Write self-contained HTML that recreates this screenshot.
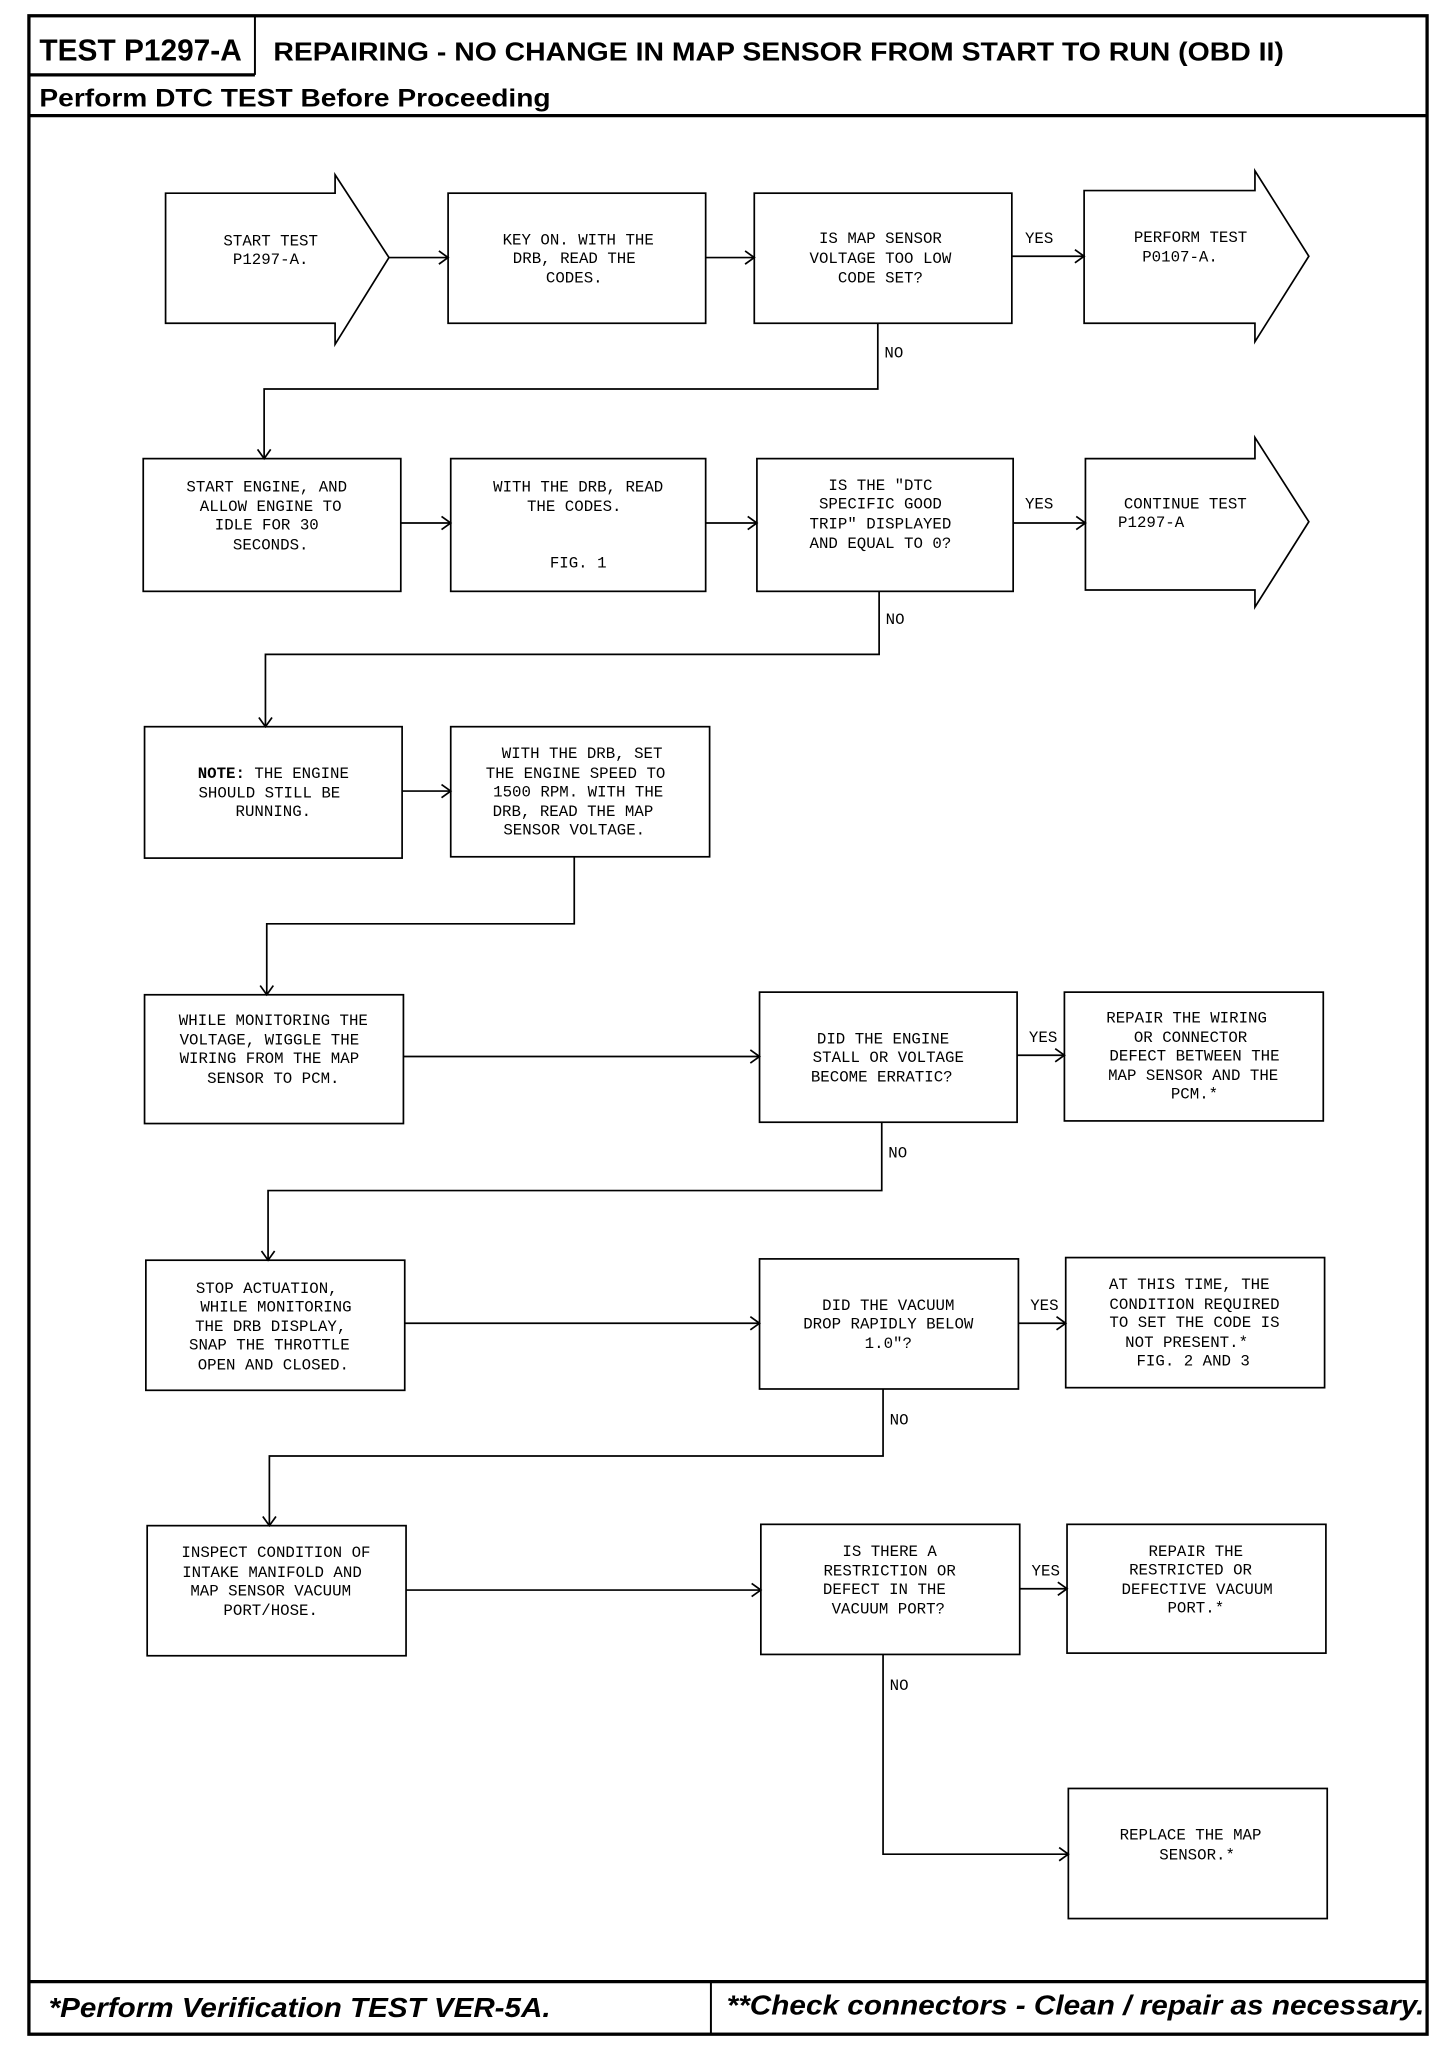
<!DOCTYPE html>
<html><head><meta charset="utf-8"><style>
html,body{margin:0;padding:0;background:#fff;}
svg{display:block;}
.m{font-family:"Liberation Mono",monospace;font-size:12px;fill:#000;text-anchor:middle;}
.l{font-family:"Liberation Mono",monospace;font-size:12px;fill:#000;}
.h{font-family:"Liberation Sans",sans-serif;font-weight:bold;fill:#000;}
</style></head><body>
<svg width="1456" height="2048" viewBox="0 0 1108 1558.5" preserveAspectRatio="none" xmlns="http://www.w3.org/2000/svg">
<g fill="none" stroke="#000">
<rect x="22" y="12" width="1064" height="1536" stroke-width="2.5"/>
<line x1="22" y1="57" x2="194" y2="57" stroke-width="2.5"/>
<line x1="194" y1="12" x2="194" y2="57" stroke-width="1.5"/>
<line x1="22" y1="88" x2="1086" y2="88" stroke-width="2.5"/>
<line x1="22" y1="1508" x2="1086" y2="1508" stroke-width="2.5"/>
<line x1="541" y1="1508" x2="541" y2="1548" stroke-width="1.5"/>
<g stroke-width="1.3">
<!-- row1 -->
<path d="M126,147 H255 V133 L296,196 L255,262 V246 H126 Z"/>
<rect x="341" y="147" width="196" height="99"/>
<rect x="574" y="147" width="196" height="99"/>
<path d="M825,145 H955 V130 L996,195 L955,260 V246 H825 Z"/>
<path d="M296,196 H341 M537,196 H574 M770,195 H825"/>
<path d="M668,246 V296 H201 V349"/>
<!-- row2 -->
<rect x="109" y="349" width="196" height="101"/>
<rect x="343" y="349" width="194" height="101"/>
<rect x="576" y="349" width="195" height="101"/>
<path d="M826,349 H955 V333 L996,397 L955,462 V449 H826 Z"/>
<path d="M305,398 H343 M537,398 H576 M771,398 H826"/>
<path d="M669,450 V498 H202 V553"/>
<!-- row3 -->
<rect x="110" y="553" width="196" height="100"/>
<rect x="343" y="553" width="197" height="99"/>
<path d="M306,602 H343"/>
<path d="M437,652 V703 H203 V757"/>
<!-- row4 -->
<rect x="110" y="757" width="197" height="98"/>
<rect x="578" y="755" width="196" height="99"/>
<rect x="810" y="755" width="197" height="98"/>
<path d="M307,804 H578 M774,803 H810"/>
<path d="M671,854 V906 H204 V959"/>
<!-- row5 -->
<rect x="111" y="959" width="197" height="99"/>
<rect x="578" y="958" width="197" height="99"/>
<rect x="811" y="957" width="197" height="99"/>
<path d="M308,1007 H578 M775,1007 H811"/>
<path d="M672,1057 V1108 H205 V1161"/>
<!-- row6 -->
<rect x="112" y="1161" width="197" height="99"/>
<rect x="579" y="1160" width="197" height="99"/>
<rect x="812" y="1160" width="197" height="98"/>
<path d="M309,1210 H579 M776,1209 H812"/>
<path d="M672,1259 V1411 H813"/>
<rect x="813" y="1361" width="197" height="99"/>
</g>
<!-- arrowheads -->
<g stroke-width="1.3">
<path d="M334,191 L341,196 L334,201"/>
<path d="M567,191 L574,196 L567,201"/>
<path d="M818,190 L825,195 L818,200"/>
<path d="M196,342 L201,349 L206,342"/>
<path d="M336,393 L343,398 L336,403"/>
<path d="M569,393 L576,398 L569,403"/>
<path d="M819,393 L826,398 L819,403"/>
<path d="M197,546 L202,553 L207,546"/>
<path d="M336,597 L343,602 L336,607"/>
<path d="M198,750 L203,757 L208,750"/>
<path d="M571,799 L578,804 L571,809"/>
<path d="M803,798 L810,803 L803,808"/>
<path d="M199,952 L204,959 L209,952"/>
<path d="M571,1002 L578,1007 L571,1012"/>
<path d="M804,1002 L811,1007 L804,1012"/>
<path d="M200,1154 L205,1161 L210,1154"/>
<path d="M572,1205 L579,1210 L572,1215"/>
<path d="M805,1204 L812,1209 L805,1214"/>
<path d="M806,1406 L813,1411 L806,1416"/>
</g>
</g>
<text class="h" x="30" y="46" font-size="23" textLength="154" lengthAdjust="spacingAndGlyphs">TEST P1297-A</text>
<text class="h" x="208" y="46" font-size="20" textLength="769" lengthAdjust="spacingAndGlyphs">REPAIRING - NO CHANGE IN MAP SENSOR FROM START TO RUN (OBD II)</text>
<text class="h" x="30" y="81" font-size="19" textLength="389" lengthAdjust="spacingAndGlyphs">Perform DTC TEST Before Proceeding</text>
<text class="h" x="37" y="1535" font-size="21" font-style="italic" textLength="382" lengthAdjust="spacingAndGlyphs">*Perform Verification TEST VER-5A.</text>
<text class="h" x="553" y="1533" font-size="21" font-style="italic" textLength="531" lengthAdjust="spacingAndGlyphs">**Check connectors - Clean / repair as necessary.</text>

<text class="m" x="206" y="187">START TEST</text><text class="m" x="206" y="201">P1297-A.</text>
<text class="m" x="440" y="186">KEY ON. WITH THE</text><text class="m" x="437" y="200">DRB, READ THE</text><text class="m" x="437" y="215">CODES.</text>
<text class="m" x="670" y="185">IS MAP SENSOR</text><text class="m" x="670" y="200">VOLTAGE TOO LOW</text><text class="m" x="670" y="215">CODE SET?</text>
<text class="l" x="780" y="185">YES</text>
<text class="m" x="906" y="184">PERFORM TEST</text><text class="m" x="898" y="199">P0107-A.</text>
<text class="l" x="673" y="272">NO</text>

<text class="m" x="203" y="374">START ENGINE, AND</text><text class="m" x="206" y="389">ALLOW ENGINE TO</text><text class="m" x="203" y="403">IDLE FOR 30</text><text class="m" x="206" y="418">SECONDS.</text>
<text class="m" x="440" y="374">WITH THE DRB, READ</text><text class="m" x="437" y="389">THE CODES.</text><text class="m" x="440" y="432">FIG. 1</text>
<text class="m" x="670" y="373">IS THE "DTC</text><text class="m" x="670" y="387">SPECIFIC GOOD</text><text class="m" x="670" y="402">TRIP" DISPLAYED</text><text class="m" x="670" y="417">AND EQUAL TO 0?</text>
<text class="l" x="780" y="387">YES</text>
<text class="m" x="902" y="387">CONTINUE TEST</text><text class="m" x="876" y="401">P1297-A</text>
<text class="l" x="674" y="475">NO</text>

<text class="m" x="208" y="592"><tspan font-weight="bold">NOTE:</tspan> THE ENGINE</text><text class="m" x="205" y="607">SHOULD STILL BE</text><text class="m" x="208" y="621">RUNNING.</text>
<text class="m" x="443" y="577">WITH THE DRB, SET</text><text class="m" x="438" y="592">THE ENGINE SPEED TO</text><text class="m" x="440" y="606">1500 RPM. WITH THE</text><text class="m" x="436" y="621">DRB, READ THE MAP</text><text class="m" x="437" y="635">SENSOR VOLTAGE.</text>

<text class="m" x="208" y="780">WHILE MONITORING THE</text><text class="m" x="205" y="795">VOLTAGE, WIGGLE THE</text><text class="m" x="205" y="809">WIRING FROM THE MAP</text><text class="m" x="208" y="824">SENSOR TO PCM.</text>
<text class="m" x="672" y="794">DID THE ENGINE</text><text class="m" x="676" y="808">STALL OR VOLTAGE</text><text class="m" x="671" y="823">BECOME ERRATIC?</text>
<text class="l" x="783" y="793">YES</text>
<text class="m" x="903" y="778">REPAIR THE WIRING</text><text class="m" x="906" y="793">OR CONNECTOR</text><text class="m" x="909" y="807">DEFECT BETWEEN THE</text><text class="m" x="908" y="822">MAP SENSOR AND THE</text><text class="m" x="909" y="836">PCM.*</text>
<text class="l" x="676" y="881">NO</text>

<text class="m" x="203" y="984">STOP ACTUATION,</text><text class="m" x="210" y="998">WHILE MONITORING</text><text class="m" x="206" y="1013">THE DRB DISPLAY,</text><text class="m" x="205" y="1027">SNAP THE THROTTLE</text><text class="m" x="208" y="1042">OPEN AND CLOSED.</text>
<text class="m" x="676" y="997">DID THE VACUUM</text><text class="m" x="676" y="1011">DROP RAPIDLY BELOW</text><text class="m" x="676" y="1026">1.0"?</text>
<text class="l" x="784" y="997">YES</text>
<text class="m" x="905" y="981">AT THIS TIME, THE</text><text class="m" x="909" y="996">CONDITION REQUIRED</text><text class="m" x="909" y="1010">TO SET THE CODE IS</text><text class="m" x="903" y="1025">NOT PRESENT.*</text><text class="m" x="908" y="1039">FIG. 2 AND 3</text>
<text class="l" x="677" y="1084">NO</text>

<text class="m" x="210" y="1185">INSPECT CONDITION OF</text><text class="m" x="207" y="1200">INTAKE MANIFOLD AND</text><text class="m" x="206" y="1214">MAP SENSOR VACUUM</text><text class="m" x="206" y="1229">PORT/HOSE.</text>
<text class="m" x="677" y="1184">IS THERE A</text><text class="m" x="677" y="1199">RESTRICTION OR</text><text class="m" x="673" y="1213">DEFECT IN THE</text><text class="m" x="676" y="1228">VACUUM PORT?</text>
<text class="l" x="785" y="1199">YES</text>
<text class="m" x="910" y="1184">REPAIR THE</text><text class="m" x="906" y="1198">RESTRICTED OR</text><text class="m" x="911" y="1213">DEFECTIVE VACUUM</text><text class="m" x="910" y="1227">PORT.*</text>
<text class="l" x="677" y="1286">NO</text>

<text class="m" x="906" y="1400">REPLACE THE MAP</text><text class="m" x="911" y="1415">SENSOR.*</text>
</svg>
</body></html>
